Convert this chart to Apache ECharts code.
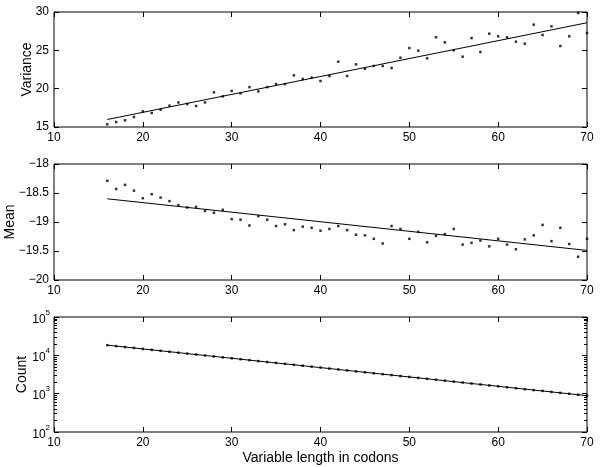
<!DOCTYPE html>
<html>
<head>
<meta charset="utf-8">
<script src="https://cdn.jsdelivr.net/npm/echarts@6/dist/echarts.min.js"></script>
<style>html,body{margin:0;padding:0;background:#fff;}#c{width:600px;height:467px;}</style>
</head>
<body>
<div id="c"></div>
<script>
// ---- data ----
const codonLengths = [16,17,18,19,20,21,22,23,24,25,26,27,28,29,30,31,32,33,34,35,36,37,38,39,40,41,42,43,44,45,46,47,48,49,50,51,52,53,54,55,56,57,58,59,60,61,62,63,64,65,66,67,68,69,70];
const varianceValues = [15.35,15.65,15.87,16.3,17.04,16.83,17.26,17.78,18.2,18.0,17.74,18.2,19.52,19.0,19.7,19.39,20.2,19.65,20.2,20.6,20.6,21.74,21.26,21.43,21.0,21.65,23.52,21.65,23.17,22.6,22.96,22.96,22.7,24.04,25.3,24.96,23.96,26.7,26.04,25.0,24.17,26.6,24.78,27.17,26.83,26.7,26.13,25.87,28.35,27.0,28.13,25.57,26.83,29.87,27.26];
const meanValues = [-18.29,-18.43,-18.36,-18.46,-18.59,-18.52,-18.58,-18.64,-18.71,-18.75,-18.74,-18.81,-18.84,-18.79,-18.95,-18.96,-19.06,-18.90,-18.96,-19.07,-19.04,-19.14,-19.08,-19.10,-19.15,-19.12,-19.07,-19.14,-19.22,-19.23,-19.29,-19.37,-19.07,-19.12,-19.29,-19.17,-19.35,-19.24,-19.21,-19.12,-19.39,-19.36,-19.32,-19.42,-19.29,-19.39,-19.47,-19.30,-19.23,-19.05,-19.33,-19.10,-19.38,-19.60,-19.29];
const countValues = [18400,17400,16400,15600,14700,13900,13100,12400,11700,11100,10500,9930,9380,8870,8390,7930,7500,7080,6700,6340,5990,5660,5350,5060,4790,4520,4280,4040,3820,3610,3410,3230,3050,2880,2730,2580,2440,2300,2180,2060,1950,1840,1740,1640,1560,1470,1390,1310,1240,1180,1110,1050,993,938,887];
const fitX = [16, 70];
const varianceFit = [15.98, 28.6];
const meanFit = [-18.6, -19.49];
const countFit = [18400, 887];
const countMinorTicks = [200,300,400,500,600,700,800,900,2000,3000,4000,5000,6000,7000,8000,9000,20000,30000,40000,50000,60000,70000,80000,90000];
const xTitle = 'Variable length in codons';
const yTitles = ['Variance', 'Mean', 'Count'];

// ---- chart ----
const FONT = '"Liberation Sans", Arial, Helvetica, sans-serif';
const grids = [
  {left: 54, top: 12, width: 533, height: 115},
  {left: 54, top: 164, width: 533, height: 116},
  {left: 54, top: 317, width: 533, height: 115}
].map(g => Object.assign(g, {show: true, borderColor: '#000', borderWidth: 1, backgroundColor: 'transparent', containLabel: false, outerBoundsMode: 'none'}));

const pairs = (xs, ys) => xs.map((x, i) => [x, ys[i]]);
const tickIn = (len) => ({show: true, inside: true, length: len, lineStyle: {color: '#000', width: 1}});
const labelStyle = {color: '#000', fontFamily: FONT, fontSize: 12};

const xAxes = [];
for (let i = 0; i < 3; i++) {
  xAxes.push({
    type: 'value', gridIndex: i, min: 10, max: 70, interval: 10, position: 'bottom',
    axisLine: {show: false}, splitLine: {show: false}, axisTick: tickIn(5),
    axisLabel: Object.assign({margin: 5}, labelStyle),
    name: i === 2 ? xTitle : '', nameLocation: 'middle', nameGap: 19, nameMoveOverlap: false,
    nameTextStyle: {color: '#000', fontFamily: FONT, fontSize: 14}
  });
}
for (let i = 0; i < 3; i++) {
  xAxes.push({
    type: 'value', gridIndex: i, min: 10, max: 70, interval: 10, position: 'top',
    axisLine: {show: false}, splitLine: {show: false}, axisTick: tickIn(5),
    axisLabel: {show: false}
  });
}

const minusFmt = v => String(v).replace('-', '\u2212');
const logFmt = v => '{b|10}{s|' + Math.round(Math.log10(v)) + '}';
const logRich = {
  b: {fontSize: 12, fontFamily: FONT, color: '#000', padding: [5, 0, 0, 0], verticalAlign: 'bottom'},
  s: {fontSize: 8, fontFamily: FONT, color: '#000', verticalAlign: 'top'}
};
const nameStyle = {color: '#000', fontFamily: FONT, fontSize: 14};
const yDefs = [
  {min: 15, max: 30, interval: 5, gap: 20},
  {min: -20, max: -18, interval: 0.5, gap: 37, fmt: minusFmt},
  {min: 100, max: 100000, log: true, gap: 25}
];
const yAxes = [];
yDefs.forEach((d, i) => {
  const base = d.log ? {type: 'log', logBase: 10, min: d.min, max: d.max} : {type: 'value', min: d.min, max: d.max, interval: d.interval};
  yAxes.push(Object.assign({}, base, {
    gridIndex: i, position: 'left', axisLine: {show: false}, splitLine: {show: false},
    axisTick: tickIn(5),
    axisLabel: d.log ? {margin: 4, formatter: logFmt, rich: logRich} : Object.assign({margin: 5, formatter: d.fmt}, labelStyle),
    name: yTitles[i], nameLocation: 'middle', nameGap: d.gap, nameMoveOverlap: false, nameTextStyle: nameStyle
  }));
});
yDefs.forEach((d, i) => {
  const base = d.log ? {type: 'log', logBase: 10, min: d.min, max: d.max} : {type: 'value', min: d.min, max: d.max, interval: d.interval};
  yAxes.push(Object.assign({}, base, {
    gridIndex: i, position: 'right', axisLine: {show: false}, splitLine: {show: false},
    axisTick: tickIn(5), axisLabel: {show: false}
  }));
});
// minor log ticks (left & right) for the Count panel
['left', 'right'].forEach(pos => {
  yAxes.push({
    type: 'log', logBase: 10, min: 100, max: 100000, gridIndex: 2, position: pos,
    axisLine: {show: false}, splitLine: {show: false},
    axisTick: Object.assign(tickIn(3), {customValues: countMinorTicks}),
    axisLabel: {show: false}
  });
});

const dotSeries = (idx, ys) => ({
  type: 'scatter', xAxisIndex: idx, yAxisIndex: idx, data: pairs(codonLengths, ys),
  symbol: 'rect', symbolSize: 2.5, itemStyle: {color: '#000'}, silent: true, z: 3
});
const fitSeries = (idx, ys) => ({
  type: 'line', xAxisIndex: idx, yAxisIndex: idx, data: pairs(fitX, ys),
  showSymbol: false, symbol: 'none', lineStyle: {color: '#000', width: 1}, silent: true, z: 2
});

const chart = echarts.init(document.getElementById('c'), null, {renderer: 'canvas'});
chart.setOption({
  animation: false,
  backgroundColor: '#fff',
  textStyle: {fontFamily: FONT},
  grid: grids,
  xAxis: xAxes,
  yAxis: yAxes,
  series: [
    dotSeries(0, varianceValues), fitSeries(0, varianceFit),
    dotSeries(1, meanValues), fitSeries(1, meanFit),
    dotSeries(2, countValues), fitSeries(2, countFit)
  ]
});
</script>
</body>
</html>
